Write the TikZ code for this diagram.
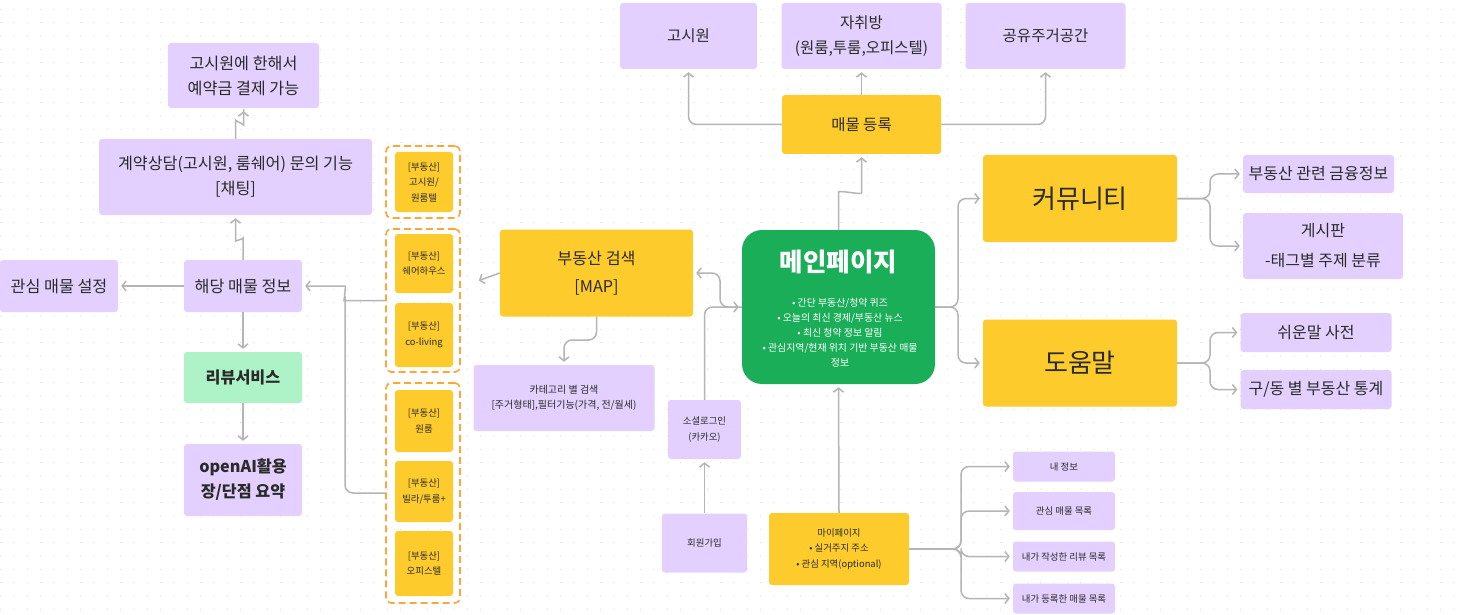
\documentclass[tikz,border=0pt]{standalone}
\usepackage{fontspec}
\setmainfont{Noto Sans CJK KR}
\usetikzlibrary{arrows.meta}
\definecolor{lav}{HTML}{E4D0FE}
\definecolor{yel}{HTML}{FECB2C}
\definecolor{mgreen}{HTML}{1BAE58}
\definecolor{rgreen}{HTML}{AEF3C8}
\definecolor{dorange}{HTML}{FFA63A}
\definecolor{txt}{HTML}{2A2A2A}
\definecolor{lgray}{HTML}{B5B5B5}
\definecolor{dotc}{HTML}{D8D8D8}
\begin{document}
\begin{tikzpicture}[x=1pt,y=-1pt,
 box/.style={rounded corners=3pt, inner sep=0pt, align=center, text=txt},
 lavbox/.style={box, fill=lav},
 yelbox/.style={box, fill=yel},
 grp/.style={draw=dorange, line width=1.6pt, dash pattern=on 7pt off 4pt, rounded corners=5pt, inner sep=0pt},
 conn/.style={draw=lgray, line width=1.5pt, rounded corners=8pt, shorten >=3pt, -{Straight Barb[length=4pt,width=10pt,line width=1.5pt]}},
 plain/.style={draw=lgray, line width=1.5pt, rounded corners=8pt},
 fA/.style={font=\fontsize{16.2}{25}\selectfont},
 fAb/.style={font=\fontsize{16.2}{25}\selectfont\bfseries},
 fB/.style={font=\fontsize{16.2}{28}\selectfont},
 fT/.style={font=\fontsize{15.5}{25}\selectfont},
 fR/.style={font=\fontsize{16}{30}\selectfont},
 fBig/.style={font=\fontsize{26}{30}\selectfont},
 fS/.style={font=\fontsize{10}{15}\selectfont},
 fXS/.style={font=\fontsize{9.4}{15.5}\selectfont},
]
\useasboundingbox (0,0) rectangle (1465,615);
\fill[white] (0,0) rectangle (1465,615);
\foreach \i in {0,...,109}{\foreach \j in {0,...,45}{\fill[dotc] (0.6+13.333*\i, 9.3+13.333*\j) circle (0.6pt);}}

% left column
\node[lavbox, minimum width=151pt, minimum height=65pt, fA] (gpay) at (243.5,75.5) {고시원에 한해서\\예약금 결제 가능};
\node[lavbox, minimum width=273pt, minimum height=76pt, fA] (contract) at (235.5,177) {계약상담(고시원, 룸쉐어) 문의 기능\\{}[채팅]};
\node[lavbox, minimum width=118pt, minimum height=52pt, fA] (interest) at (59,286) {관심 매물 설정};
\node[lavbox, minimum width=118pt, minimum height=52pt, fA] (detail) at (243,286) {해당 매물 정보};
\node[box, fill=rgreen, minimum width=118pt, minimum height=51pt, fAb] (review) at (243,377.5) {리뷰서비스};
\node[lavbox, minimum width=118pt, minimum height=72pt, fAb] (ai) at (243,480) {openAI활용\\장/단점 요약};

% dashed groups
\node[grp, minimum width=74pt, minimum height=72pt] (g1) at (423,182) {};
\node[grp, minimum width=74pt, minimum height=143pt] (g2) at (423,300.5) {};
\node[grp, minimum width=74pt, minimum height=220pt] (g3) at (423,493) {};
\node[yelbox, minimum width=58pt, minimum height=60pt, fXS] (b1) at (424,182) {[부동산]\\고시원/\\원룸텔};
\node[yelbox, minimum width=58pt, minimum height=59pt, fXS] (b2) at (424,263.5) {[부동산]\\쉐어하우스};
\node[yelbox, minimum width=58pt, minimum height=64pt, fXS] (b3) at (424,335) {[부동산]\\co-living};
\node[yelbox, minimum width=58pt, minimum height=62pt, fXS] (b4) at (424,421) {[부동산]\\원룸};
\node[yelbox, minimum width=58pt, minimum height=61pt, fXS] (b5) at (424,491.5) {[부동산]\\빌라/투룸+};
\node[yelbox, minimum width=58pt, minimum height=65pt, fXS] (b6) at (424,563.5) {[부동산]\\오피스텔};

% search
\node[yelbox, minimum width=193pt, minimum height=87pt, fB] (search) at (596.5,273) {부동산 검색\\{}[MAP]};
\node[lavbox, minimum width=181pt, minimum height=66pt, fS] (cat) at (564,398) {카테고리 별 검색\\{}[주거형태],필터기능(가격, 전/월세)};

% main
\node[box, fill=mgreen, rounded corners=20pt, minimum width=193pt, minimum height=154pt] (main) at (838.5,307) {};
\node[text=white, inner sep=0pt, font=\fontsize{25.5}{28}\selectfont\bfseries] (mainT) at (838.5,262) {메인페이지};
\node[text=white, inner sep=0pt, align=center, font=\fontsize{9.9}{15}\selectfont] (mainB) at (840,333) {• 간단 부동산/청약 퀴즈\\• 오늘의 최신 경제/부동산 뉴스\\• 최신 청약 정보 알림\\• 관심지역/현재 위치 기반 부동산 매물\\정보};

% top
\node[yelbox, minimum width=159pt, minimum height=59pt, fT] (mr) at (861.5,124.5) {매물 등록};
\node[lavbox, minimum width=137pt, minimum height=66pt, fT] (gosi) at (688.5,36) {고시원};
\node[lavbox, minimum width=160pt, minimum height=66pt, fT] (jachi) at (861.5,36) {자취방\\(원룸,투룸,오피스텔)};
\node[lavbox, minimum width=160pt, minimum height=66pt, fT] (gong) at (1045.5,36) {공유주거공간};

% right
\node[yelbox, minimum width=194pt, minimum height=87pt, fBig] (comm) at (1080,198.5) {커뮤니티};
\node[yelbox, minimum width=194pt, minimum height=87pt, fBig] (help) at (1080,363) {도움말};
\node[lavbox, minimum width=151pt, minimum height=38pt, fR] (fin) at (1318.5,174) {부동산 관련 금융정보};
\node[lavbox, minimum width=160pt, minimum height=66pt, fR] (board) at (1323,246) {게시판\\-태그별 주제 분류};
\node[lavbox, minimum width=151pt, minimum height=39pt, fR] (easy) at (1316,332.5) {쉬운말 사전};
\node[lavbox, minimum width=151pt, minimum height=39pt, fR] (stat) at (1316,389.5) {구/동 별 부동산 통계};

% bottom
\node[lavbox, minimum width=73pt, minimum height=59pt, fXS] (social) at (704.5,429.5) {소셜로그인\\(카카오)};
\node[lavbox, minimum width=85pt, minimum height=59pt, fXS] (signup) at (704.5,543) {회원가입};
\node[yelbox, minimum width=140pt, minimum height=72pt, fXS] (my) at (839,549) {마이페이지\\• 실거주지 주소\\• 관심 지역(optional)};
\node[lavbox, minimum width=102pt, minimum height=30pt, fXS] (myinfo) at (1064,466.5) {내 정보};
\node[lavbox, minimum width=102pt, minimum height=38pt, fXS] (mylike) at (1064,511) {관심 매물 목록};
\node[lavbox, minimum width=102pt, minimum height=30pt, fXS] (myrev) at (1064,556.5) {내가 작성한 리뷰 목록};
\node[lavbox, minimum width=102pt, minimum height=30pt, fXS] (myreg) at (1064,598.5) {내가 등록한 매물 목록};

% connectors
\draw[conn] (contract.north) -- (235.5,128) .. controls (235.5,121) and (243.5,124) .. (243.5,117) -- (gpay.south);
\draw[conn] (detail.north) -- (243,246) .. controls (243,239) and (235.5,241) .. (235.5,233) -- (contract.south);
\draw[conn] (detail.west) -- (interest.east);
\draw[conn] (detail.south) -- (review.north);
\draw[conn] (review.south) -- (ai.north);
\draw[conn] (g2.west) -- (352,300.5) .. controls (344,300.5) and (346,286) .. (337,286) -- (detail.east);
\draw[plain] (g3.west) -- (345,493) -- (345,296);
\coordinate (g2in) at (476,281.5);
\draw[conn] (search.west) -- (g2in);
\draw[conn] (search.south) -- (596.5,340) -- (564,340) -- (cat.north);
\draw[conn] (main.west) -- (720,307) -- (720,273) -- (search.east);
\draw[conn] (social.north) -- (704.5,307) -- (main.west);
\draw[conn] (signup.north) -- (social.south);
\draw[conn] (main.north) -- (838.5,200) .. controls (838.5,190) and (861.5,195) .. (861.5,185) -- (mr.south);
\draw[conn] (mr.west) -- (688.5,124.5) -- (gosi.south);
\draw[conn] (mr.north) -- (jachi.south);
\draw[conn] (mr.east) -- (1045.5,124.5) -- (gong.south);
\draw[conn] (main.east) -- (958,307) -- (958,198.5) -- (comm.west);
\draw[conn] (main.east) -- (958,307) -- (958,363) -- (help.west);
\draw[conn] (comm.east) -- (1210,198.5) -- (1210,174) -- (fin.west);
\draw[conn] (comm.east) -- (1210,198.5) -- (1210,246) -- (board.west);
\draw[conn] (help.east) -- (1210,363) -- (1210,332.5) -- (easy.west);
\draw[conn] (help.east) -- (1210,363) -- (1210,389.5) -- (stat.west);
\draw[conn] (my.north) -- (main.south);
\draw[conn] (my.east) -- (961,549) -- (961,466.5) -- (myinfo.west);
\draw[conn] (my.east) -- (961,549) -- (961,511) -- (mylike.west);
\draw[conn] (my.east) -- (961,549) -- (961,556.5) -- (myrev.west);
\draw[conn] (my.east) -- (961,549) -- (961,598.5) -- (myreg.west);
\end{tikzpicture}
\end{document}
